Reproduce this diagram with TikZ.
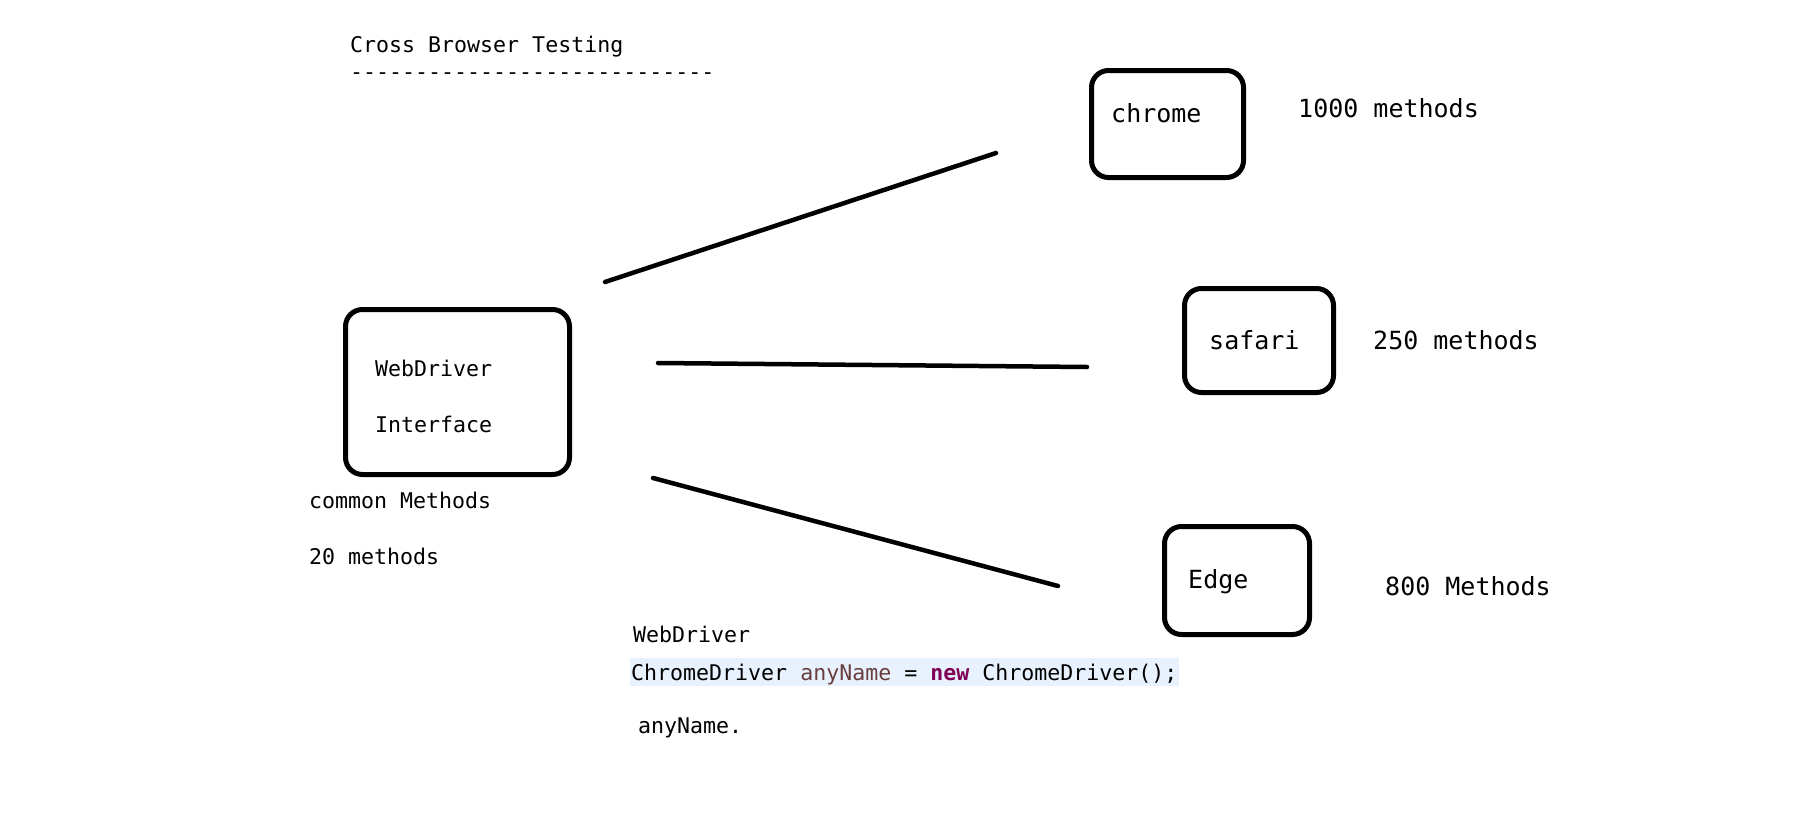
\documentclass[tikz,border=0pt]{standalone}
\usepackage{fontspec}
\setmonofont{DejaVu Sans Mono}
\usepackage{tikz}

\definecolor{varcol}{HTML}{6A3E3E}
\definecolor{kwcol}{HTML}{7F0055}
\definecolor{linebg}{HTML}{E8F2FE}

\tikzset{
  browser/.style={draw, line width=5pt, rounded corners=17pt},
  lbl/.style={anchor=base west, inner sep=0pt, font=\ttfamily\fontsize{21.6}{26}\selectfont},
  biglbl/.style={lbl, font=\ttfamily\fontsize{25}{30}\selectfont},
  codelbl/.style={lbl},
  wire/.style={line width=4.5pt, line cap=round}
}

\begin{document}
\begin{tikzpicture}[x=1pt,y=-1pt]
        \useasboundingbox (0,0) rectangle (1814,827);
        % \draw[help lines,step=100] (0,0) grid (1814,827);
        \node[lbl] at (350,52) (title) {Cross Browser Testing};
        \node[lbl] at (350,79) (rule) {----------------------------};

        \node[browser, minimum width=224pt, minimum height=165pt] at (457.5,392) (wd) {};
        \node[lbl] at (375,376) (wdname) {WebDriver};
        \node[lbl] at (375,432) (wdkind) {Interface};
        \node[lbl] at (309,508) (common) {common Methods};
        \node[lbl] at (309,564) (commonnum) {20 methods};

        \node[browser, minimum width=152pt, minimum height=107pt] at (1167.5,124) (chrome) {};
        \node[biglbl] at (1111,122) (chromename) {chrome};
        \node[biglbl] at (1298,117) (chromenum) {1000 methods};

        \node[browser, minimum width=149pt, minimum height=104pt] at (1259,340.5) (safari) {};
        \node[biglbl] at (1209,349) (safariname) {safari};
        \node[biglbl] at (1373,349) (safarinum) {250 methods};

        \node[browser, minimum width=145pt, minimum height=108pt] at (1237,580.5) (edge) {};
        \node[biglbl] at (1188,588) (edgename) {Edge};
        \node[biglbl] at (1385,595) (edgenum) {800 Methods};

        \coordinate (w1s) at (605,282);
        \coordinate (w1e) at (996,153);
        \coordinate (w2s) at (658,363);
        \coordinate (w2e) at (1087,367);
        \coordinate (w3s) at (653,478);
        \coordinate (w3e) at (1058,586);

        \path[wire]
        (w1s) edge (w1e)
        (w2s) edge (w2e)
        (w3s) edge (w3e);

        \node[codelbl] at (633,642) (decl) {WebDriver};
        \node[codelbl, fill=linebg, text height=22pt, text depth=6pt, inner xsep=1.5pt] at (629.5,680) (stmt)
          {ChromeDriver \textcolor{varcol}{anyName} = \textbf{\textcolor{kwcol}{new}} ChromeDriver();\hspace{2pt}};
        \node[codelbl] at (638,733) (call) {anyName.};

    \end{tikzpicture}
\end{document}
